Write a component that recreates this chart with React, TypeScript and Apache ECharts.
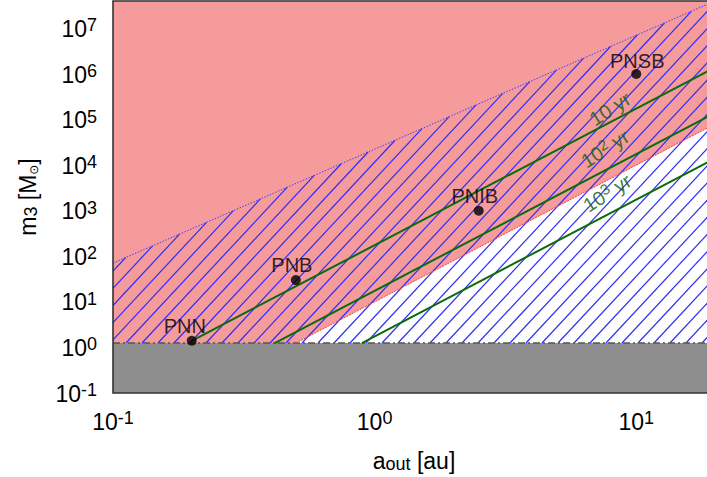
import React, { useEffect, useRef } from 'react';
import * as echarts from 'echarts';

const FONT = '"Liberation Sans", Arial, Helvetica, sans-serif';

// axis extents (a_out in au, m3 in solar masses)
const xExtent = [0.1, 20];
const yExtent = [0.1, 4e7];

// named systems
const sysNames = ['PNN', 'PNB', 'PNIB', 'PNSB'];
const sysA = [0.2, 0.5, 2.5, 10];
const sysM = [1.4, 30, 1000, 1e6];

// constant-timescale lines
const tStartA = [0.2, 0.415, 0.894];
const tStartM = [1.4, 1.25, 1.25];
const tEndA = [20, 20, 20];
const tEndM = [1.4e6, 1.4e5, 1.4e4];
const tLabelA = [7.9, 7.57, 7.71];
const tLabelM = [1.8e5, 2.4e4, 2.55e3];
const tLabelExp = ['', '2', '3'];

// region boundaries
const grayLimitM = 1.25;
const pinkEdgeA = [0.5, 20];
const pinkEdgeM = [1.25, 8e4];
const hatchEdgeA = [0.1, 20];
const hatchEdgeM = [71, 4e7];

// styling
const PINK = '#f59b9b';
const GRAY = '#8e8e8e';
const GREEN = '#0b6b0b';
const GREEN_TEXT = '#0a600a';
const HATCH = '#2e2ef5';
const HATCH_ANGLE = 47;
const HATCH_SPACING_X = 16;
const HATCH_PHASE = 13;
const sysLabelOffsets = [[-7, -15], [-4, -15], [-4, -15], [1, -13]];

const tickRich = {
  b: { fontSize: 23, fontFamily: FONT, color: '#000', lineHeight: 24, verticalAlign: 'bottom' },
  s: { fontSize: 18, fontFamily: FONT, color: '#000', lineHeight: 8, verticalAlign: 'top' },
};
const nameRich = {
  b: { fontSize: 23, fontFamily: FONT, color: '#000', lineHeight: 24, verticalAlign: 'top' },
  sub: { fontSize: 18, fontFamily: FONT, color: '#000', lineHeight: 8, verticalAlign: 'bottom' },
  sun: { fontSize: 12, fontFamily: '"DejaVu Sans", sans-serif', color: '#000', lineHeight: 8, verticalAlign: 'bottom' },
};
const greenRich = {
  g: { fontSize: 20, fontFamily: FONT, color: GREEN_TEXT, lineHeight: 22, verticalAlign: 'bottom' },
  gs: { fontSize: 15, fontFamily: FONT, color: GREEN_TEXT, lineHeight: 8, verticalAlign: 'top' },
};

const expLabel = (v: number) => {
  const e = Math.log10(v);
  const r = Math.round(e);
  if (Math.abs(e - r) > 1e-6) return '';
  return `{b|10}{s|${r}}`;
};

function renderRegions(_params: any, api: any) {
  const c = (a: number, m: number) => api.coord([a, m]);
  const pink = [
    c(xExtent[0], grayLimitM),
    c(pinkEdgeA[0], pinkEdgeM[0]),
    c(pinkEdgeA[1], pinkEdgeM[1]),
    c(xExtent[1], yExtent[1]),
    c(xExtent[0], yExtent[1]),
  ];
  const hatchPoly = [
    c(xExtent[0], grayLimitM),
    c(xExtent[1], grayLimitM),
    c(hatchEdgeA[1], hatchEdgeM[1]),
    c(hatchEdgeA[0], hatchEdgeM[0]),
  ];
  const gray = [
    c(xExtent[0], yExtent[0]),
    c(xExtent[1], yExtent[0]),
    c(xExtent[1], grayLimitM),
    c(xExtent[0], grayLimitM),
  ];
  const children: any[] = [];
  children.push({ type: 'polygon', shape: { points: pink }, style: { fill: PINK } });

  const th = (HATCH_ANGLE * Math.PI) / 180;
  const nx = Math.sin(th), ny = Math.cos(th);
  const dx = Math.cos(th), dy = -Math.sin(th);
  const proj = (p: number[]) => nx * p[0] + ny * p[1];
  const vals = hatchPoly.map(proj);
  const cmin = Math.min(...vals), cmax = Math.max(...vals);
  const step = HATCH_SPACING_X * Math.sin(th);
  const base = proj([hatchPoly[0][0] + HATCH_PHASE, hatchPoly[0][1]]);
  const k0 = Math.ceil((cmin - base) / step);
  for (let cc = base + k0 * step; cc <= cmax; cc += step) {
    const pts: number[][] = [];
    for (let i = 0; i < hatchPoly.length; i++) {
      const p1 = hatchPoly[i];
      const p2 = hatchPoly[(i + 1) % hatchPoly.length];
      const f1 = proj(p1) - cc;
      const f2 = proj(p2) - cc;
      if ((f1 <= 0 && f2 > 0) || (f1 > 0 && f2 <= 0)) {
        const t = f1 / (f1 - f2);
        pts.push([p1[0] + t * (p2[0] - p1[0]), p1[1] + t * (p2[1] - p1[1])]);
      }
    }
    if (pts.length >= 2) {
      pts.sort((p, q) => dx * p[0] + dy * p[1] - (dx * q[0] + dy * q[1]));
      const a = pts[0], b = pts[pts.length - 1];
      children.push({
        type: 'line',
        shape: { x1: a[0], y1: a[1], x2: b[0], y2: b[1] },
        style: { stroke: HATCH, lineWidth: 1.2 },
      });
    }
  }
  children.push({ type: 'polygon', shape: { points: gray }, style: { fill: GRAY } });
  return { type: 'group', children };
}

function renderFrame(_params: any, api: any) {
  const tl = api.coord([xExtent[0], yExtent[1]]);
  const br = api.coord([xExtent[1], yExtent[0]]);
  return {
    type: 'rect',
    shape: { x: tl[0], y: tl[1], width: br[0] - tl[0], height: br[1] - tl[1] },
    style: { fill: 'none', stroke: '#333', lineWidth: 1.6 },
  };
}

export default function App() {
  const ref = useRef<HTMLDivElement>(null);
  useEffect(() => {
    if (!ref.current) return;
    const chart = echarts.init(ref.current, undefined, { renderer: 'svg' });
    const lineSeries = (name: string, data: number[][], style: any) => ({
      type: 'line',
      name,
      data,
      symbol: 'none',
      showSymbol: false,
      silent: true,
      lineStyle: style,
    });
    const series: any[] = [
      { type: 'custom', name: 'regions', data: [[1, 1]], renderItem: renderRegions, silent: true },
      lineSeries('gray limit', [[xExtent[0], grayLimitM], [xExtent[1], grayLimitM]], {
        color: '#555', width: 1.5, type: [7, 3, 2, 3],
      }),
      lineSeries('pink edge', [[pinkEdgeA[0], pinkEdgeM[0]], [pinkEdgeA[1], pinkEdgeM[1]]], {
        color: '#ff3a3a', width: 1, type: [2, 1],
      }),
      lineSeries('hatch edge', [[hatchEdgeA[0], hatchEdgeM[0]], [hatchEdgeA[1], hatchEdgeM[1]]], {
        color: '#4040ff', width: 1, type: [1.5, 1.5],
      }),
    ];
    tStartA.forEach((_, i) => {
      series.push(
        lineSeries('t' + i, [[tStartA[i], tStartM[i]], [tEndA[i], tEndM[i]]], { color: GREEN, width: 2 })
      );
    });
    series.push({
      type: 'scatter',
      name: 'systems',
      symbol: 'circle',
      symbolSize: 10,
      itemStyle: { color: '#000' },
      data: sysNames.map((n, i) => ({
        name: n,
        value: [sysA[i], sysM[i]],
        label: { offset: sysLabelOffsets[i] },
      })),
      label: {
        show: true,
        position: 'inside',
        formatter: (p: any) => p.name,
        fontSize: 20,
        fontFamily: FONT,
        color: '#000',
      },
      z: 5,
    });
    series.push({
      type: 'scatter',
      name: 'timescale labels',
      symbolSize: 0,
      data: tLabelA.map((a, i) => [a, tLabelM[i]]),
      label: {
        show: true,
        position: 'inside',
        rotate: 32.5,
        formatter: (p: any) => {
          const e = tLabelExp[p.dataIndex];
          return e ? `{g|10}{gs|${e}}{g| yr}` : '{g|10 yr}';
        },
        rich: greenRich,
      },
      z: 5,
    });
    series.push({ type: 'custom', name: 'frame', data: [[1, 1]], renderItem: renderFrame, silent: true, z: 10 });

    chart.setOption({
      animation: false,
      backgroundColor: '#fff',
      grid: {
        left: 113,
        top: 1,
        width: 602,
        height: 392,
        containLabel: false,
        outerBoundsMode: 'none',
      },
      xAxis: {
        type: 'log',
        logBase: 10,
        min: xExtent[0],
        max: xExtent[1],
        axisLine: { show: false },
        axisTick: { show: false },
        splitLine: { show: false },
        minorTick: { show: false },
        axisLabel: { formatter: expLabel, margin: 16, rich: tickRich },
        name: '{b|a}{sub|out}{b| [au]}',
        nameLocation: 'middle',
        nameGap: 56,
        nameTextStyle: { rich: nameRich },
      },
      yAxis: {
        type: 'log',
        logBase: 10,
        min: yExtent[0],
        max: yExtent[1],
        axisLine: { show: false },
        axisTick: { show: false },
        splitLine: { show: false },
        minorTick: { show: false },
        axisLabel: { formatter: expLabel, margin: 16, rich: tickRich },
        name: '{b|m}{sub|3}{b| [M}{sun|\u2299}{b|]}',
        nameLocation: 'middle',
        nameRotate: 90,
        nameGap: 73,
        nameTextStyle: { rich: nameRich },
      },
      series,
    });
    return () => chart.dispose();
  }, []);
  return (
    <div
      ref={ref}
      style={{ position: 'absolute', left: 0, top: 0, width: 707, height: 477, background: '#fff' }}
    />
  );
}
